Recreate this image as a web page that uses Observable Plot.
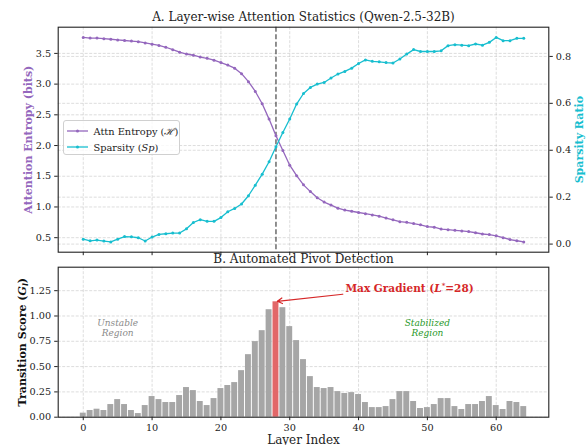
<!DOCTYPE html>
<html><head><meta charset="utf-8">
<script src="https://cdn.jsdelivr.net/npm/d3@7"></script>
<script src="https://cdn.jsdelivr.net/npm/@observablehq/plot@0.6"></script>
<style>
body{margin:0;background:#fff;}
#wrap{position:relative;width:586px;height:445px;overflow:hidden;font-family:"DejaVu Serif",serif;background:#fff;}
#top,#bot{position:absolute;left:0;}
#top{top:0}
#bot{top:245px}
.legend{position:absolute;left:62.5px;top:120px;width:117px;height:35px;border:1px solid #d0d0d0;border-radius:3px;background:rgba(255,255,255,0.8);font-size:9.8px;color:#222;box-sizing:border-box;font-family:"DejaVu Serif",serif;}
.legend .row{position:absolute;left:3px;height:14px;display:flex;align-items:center;white-space:nowrap;}
.legend svg{margin-right:6px;}
</style></head><body><div id="wrap"><div id="top"></div><div id="bot"></div>
<div class="legend" id="legend"></div></div>
<script>
// ---------- data ----------
const layers = d3.range(65);
const entropy = [3.76,3.75,3.75,3.74,3.73,3.72,3.71,3.70,3.69,3.67,
                 3.65,3.63,3.60,3.56,3.52,3.49,3.47,3.44,3.42,3.39,
                 3.35,3.31,3.26,3.17,3.04,2.88,2.68,2.43,2.16,1.92,
                 1.68,1.51,1.36,1.25,1.15,1.08,1.03,0.98,0.95,0.93,
                 0.91,0.89,0.87,0.85,0.82,0.79,0.76,0.75,0.73,0.71,
                 0.68,0.67,0.64,0.63,0.62,0.61,0.60,0.58,0.56,0.55,
                 0.53,0.50,0.47,0.45,0.43];
const sparsity = [0.021,0.014,0.017,0.013,0.009,0.021,0.032,0.031,0.027,0.013,
                  0.030,0.041,0.044,0.047,0.047,0.065,0.092,0.104,0.097,0.097,
                  0.113,0.138,0.152,0.171,0.206,0.251,0.298,0.351,0.415,0.476,
                  0.533,0.597,0.642,0.668,0.682,0.689,0.708,0.725,0.736,0.750,
                  0.770,0.785,0.779,0.777,0.774,0.772,0.789,0.810,0.829,0.821,
                  0.821,0.821,0.824,0.846,0.850,0.848,0.846,0.853,0.848,0.860,
                  0.881,0.867,0.867,0.877,0.877];
const transition = [0.040,0.066,0.079,0.066,0.125,0.174,0.125,0.066,0.036,0.115,
                    0.204,0.174,0.145,0.145,0.214,0.293,0.263,0.155,0.115,0.184,
                    0.283,0.313,0.342,0.460,0.618,0.747,0.855,1.062,1.140,1.082,
                    0.895,0.757,0.569,0.401,0.293,0.283,0.293,0.253,0.234,0.243,
                    0.224,0.145,0.095,0.095,0.105,0.174,0.253,0.253,0.155,0.086,
                    0.095,0.125,0.184,0.184,0.105,0.076,0.125,0.125,0.155,0.204,
                    0.115,0.076,0.155,0.145,0.105];
const pivotLayer = 28;
const xTicks = [0,10,20,30,40,50,60];
const entropyTicks = [0.5,1.0,1.5,2.0,2.5,3.0,3.5];
const sparsityTicks = [0.0,0.2,0.4,0.6,0.8];
const scoreTicks = [0,0.25,0.5,0.75,1.0,1.25];
const regionLabels = ["Unstable\nRegion","Stabilized\nRegion"];
const regionLayers = [5,50];
const regionColors = ["#8a8a8a","#2a9a2a"];
const regionValue = 0.88;
const arrowFrom = [37.7, 1.215];
const arrowTo = [28.2, 1.145];
const annotationPos = [38.1, 1.275];

// ---------- helpers ----------
const purple = "#9467bd", cyan = "#17becf", red = "#d62728";
const pad = (lo, hi, f=0.05) => [lo - (hi-lo)*f, hi + (hi-lo)*f];
const xDomain = pad(-0.4, 64.4);
const eDomain = pad(d3.min(entropy), d3.max(entropy));
const sDomain = pad(d3.min(sparsity), d3.max(sparsity));
const toE = s => eDomain[0] + (s - sDomain[0])*(eDomain[1]-eDomain[0])/(sDomain[1]-sDomain[0]);
const fromE = e => sDomain[0] + (e - eDomain[0])*(sDomain[1]-sDomain[0])/(eDomain[1]-eDomain[0]);
const gridStyle = {stroke:"#b0b0b0", strokeOpacity:0.55, strokeDasharray:"3,1.5", strokeWidth:0.8};
const font = {fontFamily:"DejaVu Serif", fontSize:"9.7px", color:"#222", overflow:"visible"};

const topPlot = Plot.plot({
  width:586, height:258,
  marginTop:26.7, marginBottom:258-251.7, marginLeft:57.7, marginRight:586-548.3,
  style:{...font, background:"white"},
  x:{domain:xDomain}, y:{domain:eDomain},
  marks:[
    Plot.gridX(xTicks, gridStyle),
    Plot.gridY(entropyTicks, gridStyle),
    Plot.gridY(sparsityTicks.map(toE), gridStyle),
    Plot.ruleX([pivotLayer], {stroke:"#555", strokeDasharray:"5,2.5", strokeWidth:1.3}),
    Plot.line(layers, {x:d=>d, y:d=>entropy[d], stroke:purple, strokeWidth:1.3}),
    Plot.dot(layers, {x:d=>d, y:d=>entropy[d], fill:purple, r:1.5}),
    Plot.line(layers, {x:d=>d, y:d=>toE(sparsity[d]), stroke:cyan, strokeWidth:1.3}),
    Plot.dot(layers, {x:d=>d, y:d=>toE(sparsity[d]), fill:cyan, r:1.5}),
    Plot.axisY(entropyTicks, {anchor:"left", tickFormat:d3.format(".1f"), tickSize:3.5, tickPadding:3.5, label:null}),
    Plot.axisY(sparsityTicks.map(toE), {anchor:"right", tickFormat:d=>fromE(d).toFixed(1), tickSize:3.5, tickPadding:3.5, label:null}),
    Plot.axisX(xTicks, {anchor:"bottom", tickFormat:()=>"", tickSize:3.5, label:null}),
    Plot.frame({stroke:"#222", strokeWidth:1.1}),
    Plot.text(["A. Layer-wise Attention Statistics (Qwen-2.5-32B)"], {frameAnchor:"top", dy:-15, fontSize:12, fill:"#222"}),
    Plot.text(["Attention Entropy (bits)"], {frameAnchor:"left", dx:-29.5, rotate:-90, textAnchor:"middle", fill:purple, fontWeight:"bold", fontSize:11}),
    Plot.text(["Sparsity Ratio"], {frameAnchor:"right", dx:30.5, rotate:-90, textAnchor:"middle", fill:cyan, fontWeight:"bold", fontSize:11})
  ]
});
document.getElementById("top").append(topPlot);

const yMax = d3.max(transition)*1.3;
const botPlot = Plot.plot({
  width:586, height:200,
  marginTop:21.7, marginBottom:28.3, marginLeft:57.7, marginRight:37.7,
  style:{...font, background:"transparent"},
  x:{domain:xDomain}, y:{domain:[0, yMax]},
  marks:[
    Plot.gridX(xTicks, gridStyle),
    Plot.gridY(scoreTicks, gridStyle),
    Plot.rectY(layers.filter(d=>d!==pivotLayer), {x1:d=>d-0.43, x2:d=>d+0.43, y1:0, y2:d=>transition[d], fill:"#a6a6a6"}),
    Plot.rectY([pivotLayer], {x1:d=>d-0.43, x2:d=>d+0.43, y1:0, y2:d=>transition[d], fill:"#e26768"}),
    Plot.axisX(xTicks, {anchor:"bottom", tickFormat:d3.format("d"), tickSize:3.5, tickPadding:3, label:null}),
    Plot.axisY(scoreTicks, {anchor:"left", tickFormat:d3.format(".2f"), tickSize:3.5, tickPadding:3.5, label:null}),
    Plot.frame({stroke:"#222", strokeWidth:1.1}),
    Plot.text(regionLabels, {x:(d,i)=>regionLayers[i], y:()=>regionValue, fill:(d,i)=>regionColors[i], fontStyle:"italic", fontSize:9, lineHeight:1.12}),
    Plot.arrow([0], {x1:()=>arrowFrom[0], y1:()=>arrowFrom[1], x2:()=>arrowTo[0], y2:()=>arrowTo[1], stroke:red, strokeWidth:1.2, headLength:7}),
    Plot.text(["MAXGRAD"], {x:()=>annotationPos[0], y:()=>annotationPos[1], textAnchor:"start", fill:red, fontWeight:"bold", fontSize:10.5}),
    Plot.text(["B. Automated Pivot Detection"], {frameAnchor:"top", dy:-13, fontSize:12, fill:"#222"}),
    Plot.text(["YLABEL2"], {frameAnchor:"left", dx:-36, rotate:-90, textAnchor:"middle", fill:"#111", fontWeight:"bold", fontSize:11}),
    Plot.text(["Layer Index"], {frameAnchor:"bottom", dy:26.5, fontSize:12, fill:"#222"})
  ]
});
document.getElementById("bot").append(botPlot);

// rich text replacements
botPlot.querySelectorAll("text").forEach(t => {
  if (t.textContent === "MAXGRAD")
    t.innerHTML = 'Max Gradient (<tspan font-style="italic">L</tspan><tspan font-size="7" dy="-4">*</tspan><tspan dy="4">=28)</tspan>';
  if (t.textContent === "YLABEL2")
    t.innerHTML = 'Transition Score (<tspan font-style="italic">G</tspan><tspan font-style="italic" font-size="7.5" dy="2.5">l</tspan><tspan dy="-2.5">)</tspan>';
});

// legend
const legendItems = [
  {color:purple, html:'Attn Entropy (<i>ℋ</i>)'},
  {color:cyan, html:'Sparsity (<i>Sp</i>)'}
];
const lg = document.getElementById("legend");
legendItems.forEach((it, i) => {
  const row = document.createElement("div");
  row.className = "row";
  row.style.top = (3 + i*16) + "px";
  row.innerHTML = `<svg width="21" height="6"><line x1="0" x2="21" y1="3" y2="3" stroke="${it.color}" stroke-width="1.3"/><circle cx="10.5" cy="3" r="1.5" fill="${it.color}"/></svg><span>${it.html}</span>`;
  lg.append(row);
});
</script></body></html>
